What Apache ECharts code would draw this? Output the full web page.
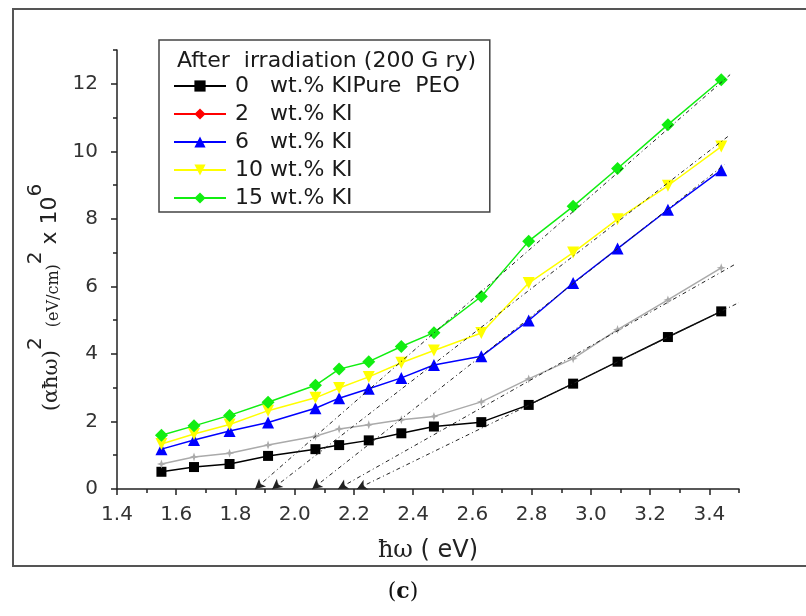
<!DOCTYPE html>
<html>
<head>
<meta charset="utf-8">
<script src="https://cdn.jsdelivr.net/npm/echarts@6/dist/echarts.min.js"></script>
<style>
html,body{margin:0;padding:0;background:#fff;}
#chart{width:806px;height:616px;}
</style>
</head>
<body>
<div id="chart"></div>
<script>
// ---- data ----
const photonEnergy = [1.55, 1.66, 1.78, 1.91, 2.07, 2.15, 2.25, 2.36, 2.47, 2.63, 2.79, 2.94, 3.09, 3.26, 3.44];
const pure0 = [0.51, 0.65, 0.74, 0.98, 1.18, 1.30, 1.44, 1.65, 1.85, 1.98, 2.49, 3.12, 3.77, 4.50, 5.26];
const ki2 = [0.74, 0.95, 1.06, 1.30, 1.56, 1.78, 1.90, 2.05, 2.15, 2.58, 3.26, 3.86, 4.72, 5.60, 6.55];
const ki6 = [1.18, 1.45, 1.72, 1.97, 2.39, 2.69, 2.97, 3.29, 3.67, 3.93, 4.99, 6.10, 7.12, 8.27, 9.44];
const ki10 = [1.33, 1.63, 1.91, 2.32, 2.70, 2.99, 3.32, 3.74, 4.10, 4.62, 6.10, 7.00, 7.99, 8.98, 10.14];
const ki15 = [1.59, 1.87, 2.18, 2.57, 3.07, 3.55, 3.77, 4.22, 4.63, 5.70, 7.34, 8.37, 9.49, 10.79, 12.12];

// linear fits (green, yellow, blue, gray, black): x-intercept and end point
const fitIntercept = [1.866, 1.924, 2.059, 2.146, 2.21];
const fitEndX = [3.47, 3.47, 3.45, 3.49, 3.50];
const fitEndY = [12.27, 10.49, 9.60, 6.67, 5.52];

const seriesNames = ['0   wt.% KIPure  PEO', '2   wt.% KI', '6   wt.% KI', '10 wt.% KI', '15 wt.% KI'];
const legendTitle = 'After  irradiation (200 G ry)';

const xTickValues = [1.4, 1.6, 1.8, 2.0, 2.2, 2.4, 2.6, 2.8, 3.0, 3.2, 3.4];
const xTickLabels = ['1.4', '1.6', '1.8', '2.0', '2.2', '2.4', '2.6', '2.8', '3.0', '3.2', '3.4'];
const xMinorTicks = [1.5, 1.7, 1.9, 2.1, 2.3, 2.5, 2.7, 2.9, 3.1, 3.3, 3.5];
const yTickValues = [0, 2, 4, 6, 8, 10, 12];
const yTickLabels = ['0', '2', '4', '6', '8', '10', '12'];
const yMinorTicks = [1, 3, 5, 7, 9, 11, 13];

// ---- chart ----
const pairs = arr => photonEnergy.map((x, i) => [x, arr[i]]);
const FONT = 'DejaVu Sans';
const starPath = 'path://M5 0 L6.3 3.7 L10 5 L6.3 6.3 L5 10 L3.7 6.3 L0 5 L3.7 3.7 Z';

function dataSeries(name, values, color, symbol, size, extra) {
  return Object.assign({
    type: 'line', name: name, data: pairs(values),
    symbol: symbol, symbolSize: size,
    lineStyle: { color: color, width: 1.5 },
    itemStyle: { color: color },
    emphasis: { disabled: true },
    animation: false
  }, extra || {});
}

const chart = echarts.init(document.getElementById('chart'));
const option = {
  animation: false,
  backgroundColor: '#fff',
  grid: { left: 117, right: 67, top: 50, bottom: 127 },
  title: [
    { text: legendTitle, left: 172, top: 45,
      textStyle: { fontFamily: FONT, fontSize: 22, fontWeight: 'normal', color: '#1a1a1a' } },
    { text: '({b|c})', left: 'center', top: 576,
      textStyle: { fontFamily: 'DejaVu Serif', fontSize: 22, fontWeight: 'normal', color: '#111',
        rich: { b: { fontFamily: 'DejaVu Serif', fontSize: 22, fontWeight: 'bold', color: '#111' } } } }
  ],
  legend: {
    data: seriesNames,
    orient: 'vertical', left: 159, top: 40,
    padding: [35, 30, 3, 14],
    itemGap: 6, itemWidth: 52, itemHeight: 14,
    selectedMode: false,
    borderColor: '#444', borderWidth: 1.5,
    textStyle: { fontFamily: FONT, fontSize: 22, color: '#1a1a1a', padding: [0, 0, 0, 4] }
  },
  xAxis: [{
    type: 'value', min: 1.4, max: 3.5,
    name: '{s|ħω} ( eV)', nameLocation: 'middle', nameGap: 50,
    nameTextStyle: { fontFamily: FONT, fontSize: 24, color: '#222',
      rich: { s: { fontFamily: 'DejaVu Serif', fontSize: 24, color: '#222' } } },
    axisLine: { lineStyle: { color: '#222', width: 1.5 } },
    axisTick: { customValues: xTickValues, length: 6, lineStyle: { color: '#222', width: 1.5 } },
    axisLabel: { customValues: xTickValues, margin: 16, fontFamily: FONT, fontSize: 20, color: '#333',
      formatter: v => xTickLabels[xTickValues.findIndex(t => Math.abs(t - v) < 1e-6)] },
    splitLine: { show: false }
  }, {
    type: 'value', min: 1.4, max: 3.5, position: 'bottom',
    axisLine: { show: false },
    axisTick: { customValues: xMinorTicks, length: 4, lineStyle: { color: '#222', width: 1.5 } },
    axisLabel: { show: false }, splitLine: { show: false }
  }],
  yAxis: [{
    type: 'value', min: 0, max: 13,
    name: '{p|(αħω)}{sup|2}{u|  (eV/cm)}{sup|2}{x| x 10}{sup|6}',
    nameLocation: 'middle', nameRotate: 90, nameGap: 49,
    nameTextStyle: { color: '#222', padding: [0, 56, 0, 0],
      rich: {
        p: { fontFamily: 'DejaVu Serif', fontSize: 21, color: '#222', lineHeight: 36, verticalAlign: 'bottom' },
        u: { fontFamily: 'DejaVu Serif', fontSize: 16, color: '#222', lineHeight: 36, verticalAlign: 'bottom' },
        x: { fontFamily: FONT, fontSize: 22, color: '#222', lineHeight: 36, verticalAlign: 'bottom' },
        sup: { fontFamily: FONT, fontSize: 20, color: '#222', lineHeight: 36, verticalAlign: 'top' }
      } },
    axisLine: { show: true, lineStyle: { color: '#222', width: 1.5 } },
    axisTick: { show: true, customValues: yTickValues, length: 6, lineStyle: { color: '#222', width: 1.5 } },
    axisLabel: { customValues: yTickValues, margin: 19, fontFamily: FONT, fontSize: 20, color: '#333',
      formatter: v => yTickLabels[yTickValues.indexOf(v)] },
    splitLine: { show: false }
  }, {
    type: 'value', min: 0, max: 13, position: 'left',
    axisLine: { show: false },
    axisTick: { show: true, customValues: yMinorTicks, length: 4, lineStyle: { color: '#222', width: 1.5 } },
    axisLabel: { show: false }, splitLine: { show: false }
  }],
  graphic: [{
    type: 'rect', shape: { x: 13, y: 9, width: 800, height: 557 },
    style: { fill: 'none', stroke: '#555', lineWidth: 2 }, silent: true, z: -10
  }],
  series: [
    dataSeries(seriesNames[0], pure0, '#000000', 'rect', 10),
    dataSeries('2 wt.% KI (plotted)', ki2, '#aaaaaa', starPath, 9),
    { type: 'line', name: seriesNames[1], data: [], symbol: 'diamond', symbolSize: 9,
      lineStyle: { color: '#ff0000', width: 1.5 }, itemStyle: { color: '#ff0000' } },
    dataSeries(seriesNames[2], ki6, '#0000ff', 'triangle', 12),
    dataSeries(seriesNames[3], ki10, '#ffff00', 'triangle', 12, { symbolRotate: 180 }),
    dataSeries(seriesNames[4], ki15, '#11ee11', 'diamond', 13),
    {
      type: 'line', name: 'fits', data: [], z: 5,
      markLine: {
        silent: true, animation: false,
        symbol: ['arrow', 'none'], symbolSize: [8, 10],
        label: { show: false },
        lineStyle: { color: '#222', width: 1, type: [4, 3, 1, 3] },
        emphasis: { disabled: true },
        data: fitIntercept.map((x0, i) => [{ coord: [x0, 0] }, { coord: [fitEndX[i], fitEndY[i]] }])
      }
    }
  ]
};
chart.setOption(option);
</script>
</body>
</html>
